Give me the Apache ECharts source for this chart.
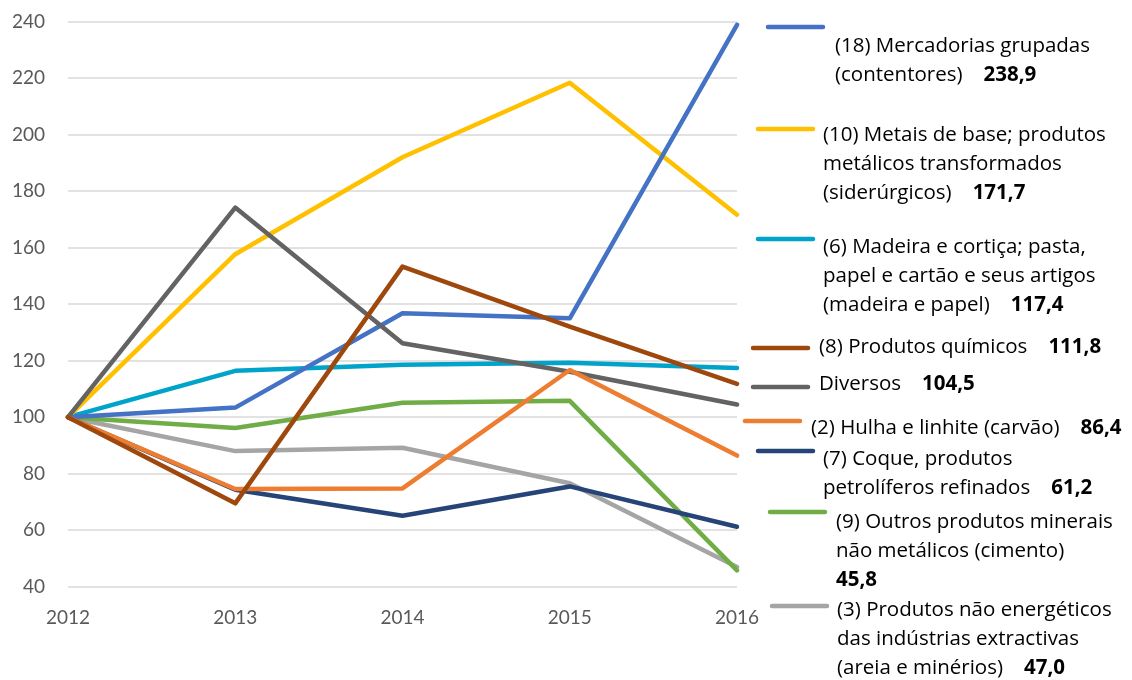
<!DOCTYPE html>
<html>
<head>
<meta charset="utf-8">
<script src="https://cdn.jsdelivr.net/npm/echarts@6/dist/echarts.min.js"></script>
<style>
  html, body { margin: 0; padding: 0; background: #fff; }
  #chart { width: 1132px; height: 680px; }
</style>
</head>
<body>
<div id="chart"></div>
<script>
var years = ['2012', '2013', '2014', '2015', '2016']

// series values (index 2012 = 100)
var contentores = [100, 103.4, 136.8, 135.0, 238.9]
var metais = [100, 157.7, 192.0, 218.4, 171.7]
var madeira = [100, 116.4, 118.6, 119.3, 117.4]
var quimicos = [100, 69.5, 153.3, 132.1, 111.8]
var diversos = [100, 174.2, 126.2, 116.1, 104.5]
var carvao = [100, 74.6, 74.8, 116.7, 86.4]
var coque = [100, 74.3, 65.1, 75.5, 61.2]
var cimento = [100, 96.2, 105.1, 105.8, 45.8]
var areia = [100, 88.0, 89.2, 76.6, 47.0]

// legend texts: label lines, last value in bold
var legendItems = [
  { name: '(18) Mercadorias grupadas', lines: ['(18) Mercadorias grupadas', '(contentores)'], value: '238,9', data: contentores, color: '#4472C4', mark: [768, 27], text: [835, 46] },
  { name: '(10) Metais de base', lines: ['(10) Metais de base; produtos', 'metálicos transformados', '(siderúrgicos)'], value: '171,7', data: metais, color: '#FFC000', mark: [758, 129], text: [823, 135] },
  { name: '(6) Madeira e cortiça', lines: ['(6) Madeira e cortiça; pasta,', 'papel e cartão e seus artigos', '(madeira e papel)'], value: '117,4', data: madeira, color: '#00A3C9', mark: [758, 239], text: [823, 247] },
  { name: '(8) Produtos químicos', lines: ['(8) Produtos químicos'], value: '111,8', data: quimicos, color: '#9E480E', mark: [753, 348], text: [819, 347] },
  { name: 'Diversos', lines: ['Diversos'], value: '104,5', data: diversos, color: '#636363', mark: [753, 387], text: [819, 384] },
  { name: '(2) Hulha e linhite', lines: ['(2) Hulha e linhite (carvão)'], value: '86,4', data: carvao, color: '#ED7D31', mark: [745, 421], text: [811, 428] },
  { name: '(7) Coque', lines: ['(7) Coque, produtos', 'petrolíferos refinados'], value: '61,2', data: coque, color: '#264478', mark: [758, 451], text: [823, 459] },
  { name: '(9) Outros produtos minerais', lines: ['(9) Outros produtos minerais', 'não metálicos (cimento)', ''], value: '45,8', data: cimento, color: '#70AD47', mark: [770, 512], text: [836, 522] },
  { name: '(3) Produtos não energéticos', lines: ['(3) Produtos não energéticos', 'das indústrias extractivas', '(areia e minérios)'], value: '47,0', data: areia, color: '#A5A5A5', mark: [772, 606], text: [837, 610] }
]

// drawing order (later = on top)
var drawOrder = [8, 7, 6, 2, 1, 0, 4, 5, 3]

var FONT = 'Lato'
var LEGEND_FONT = 'Open Sans'
var LINE_H = 29

var chart = echarts.init(document.getElementById('chart'))

var series = drawOrder.map(function (i) {
  var it = legendItems[i]
  return {
    name: it.name,
    type: 'line',
    data: it.data,
    symbol: 'none',
    lineStyle: { width: 4.5, color: it.color, cap: 'round', join: 'round' },
    itemStyle: { color: it.color },
    z: 2
  }
})

var graphics = []
legendItems.forEach(function (it) {
  graphics.push({
    type: 'line',
    shape: { x1: it.mark[0], y1: it.mark[1], x2: it.mark[0] + 55, y2: it.mark[1] },
    style: { stroke: it.color, lineWidth: 4.5, lineCap: 'round' }
  })
  var txt = it.lines.map(function (l, k) {
    if (k < it.lines.length - 1) return '{n|' + l + '}'
    return l ? '{n|' + l + '}{g|}{b|' + it.value + '}' : '{b|' + it.value + '}'
  }).join('\n')
  graphics.push({
    type: 'text',
    x: it.text[0],
    y: it.text[1] - LINE_H / 2,
    style: {
      text: txt,
      rich: {
        n: { fontFamily: LEGEND_FONT, fontSize: 20.5, color: '#404040', lineHeight: LINE_H },
        g: { width: 21, lineHeight: LINE_H },
        b: { fontFamily: LEGEND_FONT, fontSize: 20.5, fontWeight: 'bold', color: '#404040', lineHeight: LINE_H }
      }
    }
  })
})

var option = {
  animation: false,
  backgroundColor: '#fff',
  grid: { left: 68, right: 395, top: 21.7, bottom: 93.3, containLabel: false },
  xAxis: {
    type: 'category',
    data: years,
    boundaryGap: false,
    axisLine: { show: false },
    axisTick: { show: false },
    axisLabel: { color: '#595959', fontFamily: FONT, fontSize: 19, margin: 22 }
  },
  yAxis: {
    type: 'value',
    min: 40,
    max: 240,
    interval: 20,
    axisLine: { show: false },
    axisTick: { show: false },
    axisLabel: { color: '#595959', fontFamily: FONT, fontSize: 19, margin: 23 },
    splitLine: { lineStyle: { color: '#D9D9D9', width: 1.5 } }
  },
  series: series,
  graphic: graphics
}

chart.setOption(option)
</script>
</body>
</html>
